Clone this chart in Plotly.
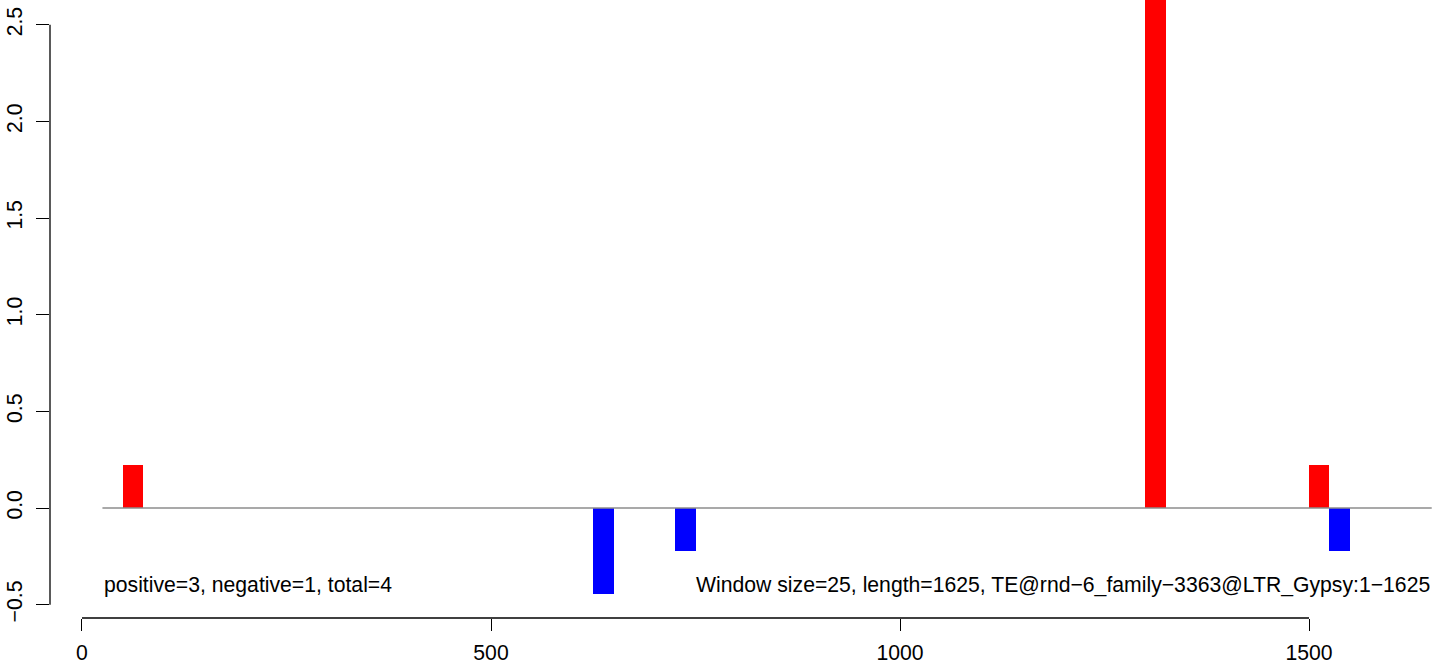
import plotly.graph_objects as go

# window start positions and scores (window size 25)
win_start = [50, 625, 725, 1300, 1500, 1525]
score = [0.222, -0.444, -0.222, 2.889, 0.222, -0.222]
win_size = 25
seq_len = 1625

xticks = [0, 500, 1000, 1500]
yticks = [-0.5, 0.0, 0.5, 1.0, 1.5, 2.0, 2.5]
ytick_text = ["\u22120.5", "0.0", "0.5", "1.0", "1.5", "2.0", "2.5"]

left_note = "positive=3, negative=1, total=4"
right_note = "Window size=25, length=1625, TE@rnd\u22126_family\u22123363@LTR_Gypsy:1\u22121625"

FONT = "Liberation Sans, Arial, Helvetica, sans-serif"
FS = 21.2

centers = [s + win_size / 2 for s in win_start]
colors = ["#ff0000" if v > 0 else "#0000ff" for v in score]

fig = go.Figure()

# baseline
fig.add_trace(go.Scatter(
    x=[win_size, seq_len + win_size], y=[0, 0], mode="lines",
    line=dict(color="#8c8c8c", width=1.3), hoverinfo="skip", showlegend=False))

fig.add_trace(go.Bar(
    x=centers, y=score, width=win_size, marker=dict(color=colors, line=dict(width=0)),
    showlegend=False))

# R-style axis lines (only between first and last tick)
fig.add_shape(type="line", xref="x", yref="paper", x0=xticks[0], x1=xticks[-1], y0=0, y1=0,
              line=dict(color="black", width=1.3))
fig.add_shape(type="line", xref="paper", yref="y", x0=0, x1=0, y0=yticks[0], y1=yticks[-1],
              line=dict(color="black", width=1.3))

fig.add_annotation(x=win_size, y=-0.4, text=left_note, showarrow=False,
                   xanchor="left", yanchor="middle", font=dict(size=FS, color="black", family=FONT))
fig.add_annotation(x=seq_len + win_size, y=-0.4, text=right_note, showarrow=False,
                   xanchor="right", yanchor="middle", font=dict(size=FS, color="black", family=FONT))

fig.update_layout(
    width=1444, height=665,
    margin=dict(l=50, r=0, t=0, b=47, autoexpand=False),
    paper_bgcolor="white", plot_bgcolor="white",
    bargap=0,
    font=dict(family=FONT, size=FS, color="black"),
    xaxis=dict(range=[-39.1, 1665.0], tickvals=xticks, ticks="outside", ticklen=12,
               tickwidth=1.3, tickcolor="black", showgrid=False, zeroline=False,
               showline=False, tickfont=dict(size=FS), ticklabelstandoff=4, automargin=False),
    yaxis=dict(range=[-0.569, 2.628], tickvals=yticks, ticktext=ytick_text,
               ticks="outside", ticklen=13, tickwidth=1.3, tickcolor="black",
               showgrid=False, zeroline=False, showline=False, tickangle=-90,
               tickfont=dict(size=FS), ticklabelstandoff=6, automargin=False),
)

fig.write_html("out.html", config={"displayModeBar": False},
               post_script="document.body.style.margin='0';")
